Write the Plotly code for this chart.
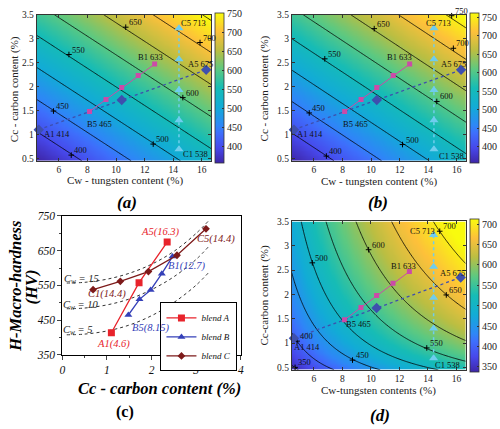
import numpy as np
import plotly.graph_objects as go

FONT = "Liberation Serif"

# ---------------- data ----------------
blendA_cw = [4.6, 10.4, 16.3]
blendA_cc = [1.10, 1.72, 2.35]
blendA_hv = [414, 558, 675]
blendB_cw = [8.15, 9.3, 10.4, 11.55, 12.7]
blendB_cc = [1.48, 1.73, 1.98, 2.23, 2.47]
blendB_hv = [465, 510, 537, 584, 633]
blendC_cw = [14.4, 14.4, 14.4, 14.4, 14.4]
blendC_cc = [0.69, 1.30, 1.93, 2.57, 3.22]
blendC_hv = [538, 562, 590, 637, 713]

# iso-Cw dashed curves in panel (c)
iso_cc = [0.1, 0.5, 1.0, 1.5, 2.0, 2.5, 3.0, 3.3]
iso_cw15_hv = [557, 559, 568, 585, 611, 648, 700, 739]
iso_cw10_hv = [483, 485, 494, 511, 538, 575, 625, 665]
iso_cw5_hv = [408, 410, 419, 436, 463, 501, 551, 590]

coef_a = [256.0, 14.5, 74.7]
coef_b = [254.6, 15.0, 76.2]
# contour readings of panel (d) (Cw, Cc, HV) -> power-law surface HV = k*Cw^p*Cc^q
d_cw = [4.68, 4.82, 8.71, 5.89, 13.92, 9.84, 15.29, 14.83]
d_cc = [0.50, 1.04, 0.65, 2.65, 0.90, 2.92, 1.99, 3.30]
d_hv = [350, 400, 450, 500, 550, 600, 650, 700]

crange_a = [357, 752]
crange_b = [356, 762]
crange_d = [337, 712]

levels_ab = [400, 450, 500, 550, 600, 650, 700, 750]
levels_d = [350, 400, 450, 500, 550, 600, 650, 700]

# contour-label anchor positions (Cw, Cc)
lab_a_cw = [6.87, 5.63, 12.6, 6.71, 14.67, 10.68, 15.87, 16.38]
lab_a_cc = [0.57, 1.49, 0.80, 2.67, 1.77, 3.24, 2.92, 3.51]
lab_b_cw = [6.87, 5.67, 12.2, 6.76, 14.6, 10.22, 15.76, 15.64]
lab_b_cc = [0.55, 1.45, 0.79, 2.58, 1.69, 3.21, 2.80, 3.48]
lab_d_cw = d_cw
lab_d_cc = d_cc

pt_names = ["A1 414", "B5 465", "B1 633", "A5 675", "C5 713", "C1 538"]
pa_cw = [5.9, 8.84, 12.41, 15.87, 15.4, 15.52]
pa_cc = [1.02, 1.21, 2.61, 2.48, 3.32, 0.60]
pb_cw = [5.74, 8.88, 11.96, 15.74, 14.72, 15.64]
pb_cc = [1.02, 1.21, 2.61, 2.48, 3.33, 0.55]
pd_cw = [5.5, 9.16, 12.31, 15.75, 13.62, 15.4]
pd_cc = [0.92, 1.39, 2.58, 2.45, 3.31, 0.54]

parula = [
    [0.0, "rgb(62,38,168)"], [0.1, "rgb(71,72,235)"], [0.2, "rgb(62,111,252)"],
    [0.25, "rgb(46,135,247)"], [0.375, "rgb(18,172,214)"], [0.5, "rgb(22,188,182)"],
    [0.625, "rgb(93,201,129)"], [0.75, "rgb(187,190,66)"], [0.875, "rgb(253,192,59)"],
    [1.0, "rgb(249,251,14)"],
]

MAG = "#cc4aa8"
DBLUE = "#3e4fae"
CYAN = "#6fcdee"

XR = [4.45, 16.65]
YR = [0.45, 3.5]
u = np.linspace(XR[0], XR[1], 160)
v = np.linspace(YR[0], YR[1], 90)
U, V = np.meshgrid(u, v)

Za = coef_a[0] + coef_a[1] * U + coef_a[2] * V
Zb = coef_b[0] + coef_b[1] * U + coef_b[2] * V
dcw = np.array(d_cw); dcc = np.array(d_cc)
A = np.column_stack([np.ones_like(dcw), np.log(dcw), np.log(dcc)])
cd, *_ = np.linalg.lstsq(A, np.log(np.array(d_hv, float)), rcond=None)
Zd = np.exp(cd[0] + cd[1] * np.log(U) + cd[2] * np.log(V))

fig = go.Figure()


def map_panel(ax, Z, crange, levels, cbx, cby, cblen, lab_cw, lab_cc, p_cw, p_cc, cbticks):
    xa = "x" if ax == 1 else f"x{ax}"
    ya = "y" if ax == 1 else f"y{ax}"
    fig.add_trace(go.Heatmap(
        x=u, y=v, z=Z, xaxis=xa, yaxis=ya, colorscale=parula, zmin=crange[0], zmax=crange[1],
        zsmooth="best", showlegend=False, hoverinfo="skip",
        colorbar=dict(x=cbx, xanchor="left", y=cby, yanchor="middle", len=cblen, lenmode="pixels",
                      thickness=9, xpad=0, ypad=0, outlinewidth=0.8, outlinecolor="#333",
                      tickvals=cbticks, ticks="inside", ticklen=2, tickcolor="#333",
                      tickfont=dict(family=FONT, size=10, color="#222")),
    ))
    fig.add_trace(go.Contour(
        x=u, y=v, z=Z, xaxis=xa, yaxis=ya, showscale=False, showlegend=False, hoverinfo="skip",
        contours=dict(coloring="none", start=levels[0], end=levels[-1], size=50),
        line=dict(color="black", width=0.8),
    ))
    fig.add_trace(go.Scatter(
        x=lab_cw, y=lab_cc, xaxis=xa, yaxis=ya, mode="markers", showlegend=False, cliponaxis=False,
        marker=dict(symbol="cross-thin", size=4, line=dict(color="black", width=1)), hoverinfo="skip"))
    for cw, cc, lv in zip(lab_cw, lab_cc, levels):
        fig.add_annotation(x=cw, y=cc, xref=xa, yref=ya, text=str(lv), showarrow=False,
                           xanchor="left", yanchor="middle", xshift=1, yshift=5,
                           font=dict(family=FONT, size=8.5, color="#111"))
    fig.add_trace(go.Scatter(x=blendC_cw, y=blendC_cc, xaxis=xa, yaxis=ya, mode="lines+markers",
                             showlegend=False, line=dict(color=CYAN, width=1.5, dash="dot"),
                             marker=dict(symbol="triangle-up", size=8, color=CYAN)))
    fig.add_trace(go.Scatter(x=blendA_cw, y=blendA_cc, xaxis=xa, yaxis=ya, mode="lines+markers",
                             showlegend=False, cliponaxis=False, line=dict(color=DBLUE, width=1.3, dash="dot"),
                             marker=dict(symbol="diamond", size=8, color=DBLUE)))
    fig.add_trace(go.Scatter(x=blendB_cw, y=blendB_cc, xaxis=xa, yaxis=ya, mode="lines+markers",
                             showlegend=False, line=dict(color=MAG, width=1),
                             marker=dict(symbol="square", size=5, color=MAG)))
    for name, cw, cc in zip(pt_names, p_cw, p_cc):
        fig.add_annotation(x=cw, y=cc, xref=xa, yref=ya, text=name, showarrow=False,
                           font=dict(family=FONT, size=8.5, color="#111"))


map_panel(1, Za, crange_a, levels_ab, 214.3 / 500, 1 - 84.2 / 429, 150, lab_a_cw, lab_a_cc, pa_cw, pa_cc, levels_ab)
map_panel(2, Zb, crange_b, levels_ab, 472.7 / 500, 1 - 84.2 / 429, 150, lab_b_cw, lab_b_cc, pb_cw, pb_cc, levels_ab)
map_panel(4, Zd, crange_d, levels_d, 472.7 / 500, 1 - 298 / 429, 152.6, lab_d_cw, lab_d_cc, pd_cw, pd_cc, levels_d)

# ---------------- panel (c) ----------------
for hv in (iso_cw15_hv, iso_cw10_hv, iso_cw5_hv):
    fig.add_trace(go.Scatter(x=iso_cc, y=hv, xaxis="x3", yaxis="y3", mode="lines", showlegend=False,
                             line=dict(color="#333", width=1, dash="dot", shape="spline"), hoverinfo="skip"))
RED = "#e8232b"
BLUE = "#3540b8"
DRED = "#7d1a1a"
fig.add_trace(go.Scatter(x=blendA_cc, y=blendA_hv, xaxis="x3", yaxis="y3", mode="lines+markers", name="blend A",
                         line=dict(color=RED, width=1.3), marker=dict(symbol="square", size=7, color=RED)))
fig.add_trace(go.Scatter(x=blendB_cc, y=blendB_hv, xaxis="x3", yaxis="y3", mode="lines+markers", name="blend B",
                         line=dict(color=BLUE, width=1.3), marker=dict(symbol="triangle-up", size=7, color=BLUE)))
fig.add_trace(go.Scatter(x=blendC_cc, y=blendC_hv, xaxis="x3", yaxis="y3", mode="lines+markers", name="blend C",
                         line=dict(color=DRED, width=1.3), marker=dict(symbol="diamond", size=6, color=DRED)))

c_labels = [("A5(16.3)", 2.2, 705, RED), ("A1(4.6)", 1.14, 382, RED),
            ("B1(12.7)", 2.8, 607, BLUE), ("B5(8.15)", 1.99, 428, BLUE),
            ("C5(14.4)", 3.45, 684, DRED), ("C1(14.4)", 1.01, 526, DRED),
            ("C<sub>w</sub> = 15", 0.42, 566, "#222"), ("C<sub>w</sub> = 10", 0.42, 492, "#222"),
            ("C<sub>w</sub> = 5", 0.36, 420, "#222")]
for t, x, y, col in c_labels:
    fig.add_annotation(x=x, y=y, xref="x3", yref="y3", text=t, showarrow=False,
                       font=dict(family=FONT, size=10.5, color=col, style="italic"))


def map_axes(dx, dy, anchor_x, anchor_y):
    common = dict(showline=True, linecolor="#333", linewidth=0.8, mirror="ticks", ticks="inside",
                  ticklen=3, tickcolor="#333", showgrid=False, zeroline=False,
                  tickfont=dict(family=FONT, size=9.5, color="#222"))
    xa = dict(domain=dx, anchor=anchor_y, range=XR, tickvals=[6, 8, 10, 12, 14, 16], **common)
    ya = dict(domain=dy, anchor=anchor_x, range=YR, tickvals=[0.5, 1, 1.5, 2, 2.5, 3, 3.5],
              ticktext=["0.5", "1", "1.5", "2", "2.5", "3", "3.5"], **common)
    return xa, ya


xa1, ya1 = map_axes([34 / 500, 210.7 / 500], [1 - 159.3 / 429, 1 - 9 / 429], "x", "y")
xa2, ya2 = map_axes([292.3 / 500, 468.7 / 500], [1 - 159.3 / 429, 1 - 9 / 429], "x2", "y2")
xa4, ya4 = map_axes([292.3 / 500, 468.3 / 500], [1 - 374.3 / 429, 1 - 221.7 / 429], "x4", "y4")

ctick = dict(family=FONT, size=11.5, color="#111", style="italic")
xa3 = dict(domain=[60 / 500, 240.7 / 500], anchor="y3", range=[0, 4], tickvals=[0, 1, 2, 3, 4],
           showline=True, linecolor="black", linewidth=1, mirror=True, ticks="outside", ticklen=4,
           showgrid=False, zeroline=False, tickfont=ctick,
           minor=dict(ticks="outside", ticklen=2, dtick=0.5))
ya3 = dict(domain=[1 - 359 / 429, 1 - 216 / 429], anchor="x3", range=[350, 750],
           tickvals=[350, 450, 550, 650, 750], showline=True, linecolor="black", linewidth=1,
           mirror=True, ticks="outside", ticklen=4, showgrid=False, zeroline=False, tickfont=ctick,
           minor=dict(ticks="outside", ticklen=2, dtick=50))

fig.update_layout(
    width=500, height=429, margin=dict(l=0, r=0, t=0, b=0),
    paper_bgcolor="white", plot_bgcolor="white",
    xaxis=xa1, yaxis=ya1, xaxis2=xa2, yaxis2=ya2, xaxis3=xa3, yaxis3=ya3, xaxis4=xa4, yaxis4=ya4,
    showlegend=True,
    legend=dict(x=237.3 / 500, y=1 - 305 / 429, xanchor="right", yanchor="top", bgcolor="white",
                bordercolor="black", borderwidth=1, itemwidth=30, tracegroupgap=0,
                font=dict(family=FONT, size=9, style="italic", color="#111")),
)


def ann(text, x, y, size, angle=0, bold=False, italic=False, color="#222"):
    fig.add_annotation(x=x / 500, y=1 - y / 429, xref="paper", yref="paper", text=text, showarrow=False,
                       textangle=angle, xanchor="center", yanchor="middle",
                       font=dict(family=FONT, size=size, color=color,
                                 weight="bold" if bold else "normal",
                                 style="italic" if italic else "normal"))


ann("Cw - tungsten content (%)", 123, 180, 11)
ann("Cc - carbon content (%)", 11.7, 86, 11, angle=-90)
ann("Cw - tungsten content (%)", 380.8, 180.5, 11)
ann("Cc - carbon content (%)", 265, 85, 11, angle=-90)
ann("Cw-tungsten contents (%)", 380, 395.5, 11)
ann("Cc-carbon content (%)", 265, 297, 11, angle=-90)
ann("Cc - carbon content (%)", 158.3, 393, 16.5, bold=True, italic=True, color="black")
ann("H-Macro-hardness", 12.5, 288.5, 16.5, angle=-90, bold=True, italic=True, color="black")
ann("(HV)", 28.3, 288.5, 16.5, angle=-90, bold=True, italic=True, color="black")
ann("(a)", 125, 202, 17, bold=True, italic=True, color="black")
ann("(b)", 380, 202, 17, bold=True, italic=True, color="black")
ann("(c)", 123, 418, 16, bold=True, color="black")
ann("(d)", 381.7, 421.7, 17, bold=True, italic=True, color="black")

fig.write_html("out.html", config={"displayModeBar": False},
               post_script="document.body.style.margin='0';document.body.style.padding='0';")
